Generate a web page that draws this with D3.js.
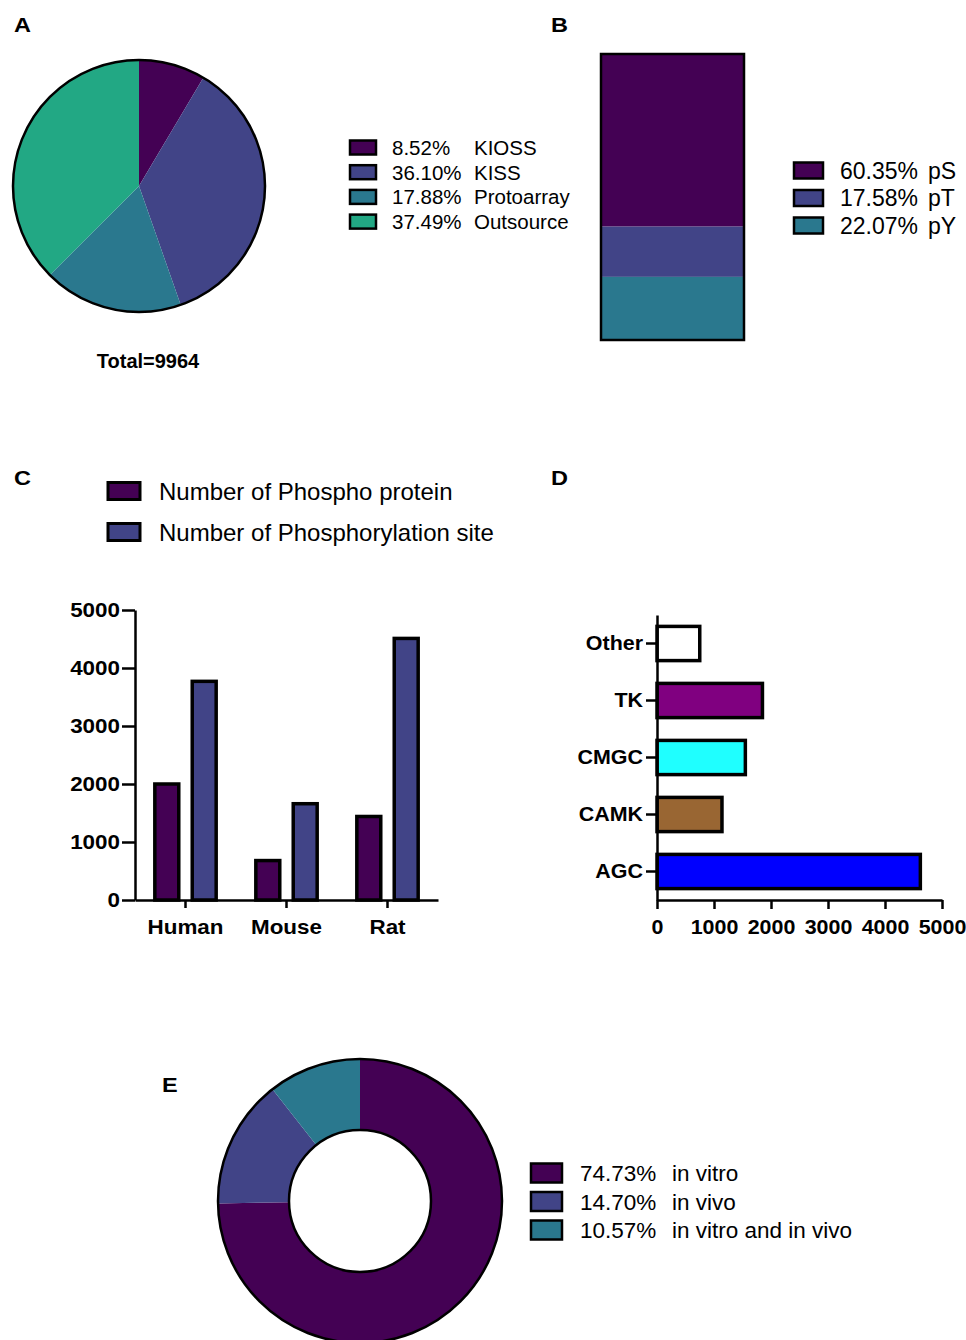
<!DOCTYPE html>
<html>
<head>
<meta charset="utf-8">
<script src="https://cdn.jsdelivr.net/npm/d3@7/dist/d3.min.js"></script>
<style>
  html, body { margin: 0; padding: 0; background: #fff; }
  svg { display: block; font-family: "Liberation Sans", Arial, sans-serif; }
</style>
</head>
<body>
<svg id="fig" width="966" height="1340"></svg>
<script>
// ---- Data ----
const sourceLabels = ["KIOSS", "KISS", "Protoarray", "Outsource"];
const sourcePct = [8.52, 36.10, 17.88, 37.49];
const sourceColors = ["#440154", "#414487", "#2a788e", "#22a884"];
const sourceTotal = 9964;

const residueLabels = ["pS", "pT", "pY"];
const residuePct = [60.35, 17.58, 22.07];
const residueColors = ["#440154", "#414487", "#2a788e"];

const species = ["Human", "Mouse", "Rat"];
const seriesNames = ["Number of Phospho protein", "Number of Phosphorylation site"];
const phosphoProtein = [2000, 680, 1440];
const phosphoSite = [3770, 1660, 4510];
const seriesColors = ["#440154", "#414487"];

const kinaseGroups = ["Other", "TK", "CMGC", "CAMK", "AGC"];
const kinaseCounts = [750, 1850, 1550, 1140, 4620];
const kinaseColors = ["#ffffff", "#800080", "#1fffff", "#996633", "#0000ff"];

const countTicks = [0, 1000, 2000, 3000, 4000, 5000];

const evidenceLabels = ["in vitro", "in vivo", "in vitro and in vivo"];
const evidencePct = [74.73, 14.70, 10.57];
const evidenceColors = ["#440154", "#414487", "#2a788e"];

const svg = d3.select("#fig");
const fmtPct = v => v.toFixed(2) + "%";

// ---- Panel letters ----
const panelLetters = [["A", 14, 32], ["B", 551, 32], ["C", 14, 485], ["D", 551, 485], ["E", 162, 1092]];
svg.selectAll("text.panel").data(panelLetters).join("text")
  .attr("class", "panel")
  .attr("transform", d => `translate(${d[1]},${d[2]}) scale(1.12,1)`)
  .attr("font-size", 21).attr("font-weight", "bold")
  .text(d => d[0]);

// Legend helper: swatch + percent column + name column
function legend(g, items, opt) {
  const rows = g.selectAll("g").data(items).join("g")
    .attr("transform", (d, i) => `translate(0,${i * opt.step})`);
  rows.append("rect")
    .attr("x", opt.sw.x).attr("y", -opt.sw.h / 2)
    .attr("width", opt.sw.w).attr("height", opt.sw.h)
    .attr("fill", d => d.color).attr("stroke", "#000").attr("stroke-width", opt.sw.stroke);
  rows.append("text")
    .attr("x", opt.tx).attr("y", opt.fs * 0.36)
    .attr("font-size", opt.fs)
    .text(d => d.pct);
  if (opt.nx != null) {
    rows.append("text")
      .attr("x", opt.nx).attr("y", opt.fs * 0.36)
      .attr("font-size", opt.fs)
      .text(d => d.name);
  }
}

// ---- A: pie of data sources ----
{
  const g = svg.append("g").attr("transform", "translate(139,186)");
  const r = 126;
  const pie = d3.pie().sort(null).value(d => d)(sourcePct);
  const arc = d3.arc().innerRadius(0).outerRadius(r);
  g.selectAll("path").data(pie).join("path")
    .attr("d", arc).attr("fill", (d, i) => sourceColors[i]);
  g.append("circle").attr("r", r).attr("fill", "none").attr("stroke", "#000").attr("stroke-width", 2.5);

  svg.append("text").attr("x", 148).attr("y", 368).attr("text-anchor", "middle")
    .attr("font-size", 20).attr("font-weight", "bold").text("Total=" + sourceTotal);

  const lg = svg.append("g").attr("transform", "translate(0,147.5)");
  legend(lg, sourceLabels.map((n, i) => ({ name: n, pct: fmtPct(sourcePct[i]), color: sourceColors[i] })),
    { step: 24.7, sw: { x: 350, w: 26, h: 14, stroke: 2.5 }, tx: 392, nx: 474, fs: 20.5 });
}

// ---- B: stacked residue bar ----
{
  const y = d3.scaleLinear().domain([0, 100]).range([340, 54]);
  const x0 = 601, x1 = 744;
  // stack from the bottom: last entry sits at the base
  const segs = residuePct.map((v, i) => {
    const base = d3.sum(residuePct.slice(i + 1));
    return { v, base, color: residueColors[i] };
  });
  svg.append("g").selectAll("rect").data(segs).join("rect")
    .attr("x", x0).attr("width", x1 - x0)
    .attr("y", d => y(d.base + d.v)).attr("height", d => y(d.base) - y(d.base + d.v))
    .attr("fill", d => d.color);
  svg.append("rect").attr("x", x0).attr("y", y(100)).attr("width", x1 - x0)
    .attr("height", y(0) - y(100)).attr("fill", "none").attr("stroke", "#000").attr("stroke-width", 2.5);

  const lg = svg.append("g").attr("transform", "translate(0,170.5)");
  legend(lg, residueLabels.map((n, i) => ({ name: n, pct: fmtPct(residuePct[i]), color: residueColors[i] })),
    { step: 27.5, sw: { x: 794, w: 29, h: 16, stroke: 2.5 }, tx: 840, nx: 928, fs: 23 });
}

// shared styling for the count axes
function styleAxis(a, sx) {
  a.selectAll("path, line").attr("stroke", "#000").attr("stroke-width", 2.5);
  a.selectAll("text").attr("font-size", 19.5).attr("font-weight", "bold").attr("fill", "#000")
    .attr("font-family", "'Liberation Sans', Arial, sans-serif");
}

// ---- C: grouped bars per species ----
{
  const x0 = d3.scaleBand().domain(species).range([135, 438]);
  const x1 = d3.scaleBand().domain(seriesNames).range([0, x0.bandwidth()]).paddingInner(0.36).paddingOuter(0.53);
  const y = d3.scaleLinear().domain([0, 5000]).range([900, 610]);
  const rows = species.map((s, i) => ({ s, vals: [phosphoProtein[i], phosphoSite[i]] }));

  const groups = svg.append("g").selectAll("g").data(rows).join("g")
    .attr("transform", d => `translate(${x0(d.s)},0)`);
  groups.selectAll("rect").data(d => d.vals.map((v, k) => ({ v, k }))).join("rect")
    .attr("x", d => x1(seriesNames[d.k])).attr("width", x1.bandwidth())
    .attr("y", d => y(d.v)).attr("height", d => y(0) - y(d.v))
    .attr("fill", d => seriesColors[d.k]).attr("stroke", "#000").attr("stroke-width", 3.5);

  const sx = 1.15;
  const yAxis = svg.append("g").attr("transform", "translate(135,0)")
    .call(d3.axisLeft(y).tickValues(countTicks).tickFormat(d3.format("d")).tickSize(13).tickPadding(2).tickSizeOuter(0));
  yAxis.selectAll("text").attr("x", -15 / sx).attr("transform", `scale(${sx},1)`);

  const xAxis = svg.append("g").attr("transform", "translate(0,900)")
    .call(d3.axisBottom(x0).tickSize(8).tickPadding(12).tickSizeOuter(0));
  xAxis.selectAll("text").attr("transform", `scale(${sx},1)`);

  styleAxis(yAxis); styleAxis(xAxis);

  const lg = svg.append("g").attr("transform", "translate(0,491)");
  legend(lg, seriesNames.map((n, i) => ({ pct: n, color: seriesColors[i] })),
    { step: 41, sw: { x: 108, w: 32, h: 17, stroke: 3 }, tx: 159, nx: null, fs: 24 });
}

// ---- D: horizontal bars per kinase group ----
{
  const y = d3.scaleBand().domain(kinaseGroups).range([615, 900]).paddingInner(0.4).paddingOuter(0.2);
  const x = d3.scaleLinear().domain([0, 5000]).range([657, 942]);
  const rows = kinaseGroups.map((k, i) => ({ k, v: kinaseCounts[i], c: kinaseColors[i] }));

  svg.append("g").selectAll("rect").data(rows).join("rect")
    .attr("x", x(0)).attr("width", d => x(d.v) - x(0))
    .attr("y", d => y(d.k)).attr("height", y.bandwidth())
    .attr("fill", d => d.c).attr("stroke", "#000").attr("stroke-width", 3.5);

  const sx = 1.1;
  const yAxis = svg.append("g").attr("transform", "translate(657,0)")
    .call(d3.axisLeft(y).tickSize(11).tickPadding(4).tickSizeOuter(0));
  yAxis.selectAll("text").attr("x", -14 / sx).attr("transform", `scale(${sx},1)`);

  const xAxis = svg.append("g").attr("transform", "translate(0,900)")
    .call(d3.axisBottom(x).tickValues(countTicks).tickFormat(d3.format("d")).tickSize(9).tickPadding(11).tickSizeOuter(0));
  xAxis.selectAll("text").attr("transform", `scale(${sx},1)`);

  styleAxis(yAxis); styleAxis(xAxis);
}

// ---- E: donut of evidence type ----
{
  const g = svg.append("g").attr("transform", "translate(360,1201)");
  const rOut = 142, rIn = 71;
  const pie = d3.pie().sort(null).value(d => d)(evidencePct);
  const arc = d3.arc().innerRadius(rIn).outerRadius(rOut);
  g.selectAll("path").data(pie).join("path")
    .attr("d", arc).attr("fill", (d, i) => evidenceColors[i]);
  g.append("circle").attr("r", rOut).attr("fill", "none").attr("stroke", "#000").attr("stroke-width", 2.5);
  g.append("circle").attr("r", rIn).attr("fill", "none").attr("stroke", "#000").attr("stroke-width", 2.5);

  const lg = svg.append("g").attr("transform", "translate(0,1173)");
  legend(lg, evidenceLabels.map((n, i) => ({ name: n, pct: fmtPct(evidencePct[i]), color: evidenceColors[i] })),
    { step: 28.5, sw: { x: 531, w: 31, h: 19, stroke: 2.5 }, tx: 580, nx: 672, fs: 22.5 });
}
</script>
</body>
</html>
